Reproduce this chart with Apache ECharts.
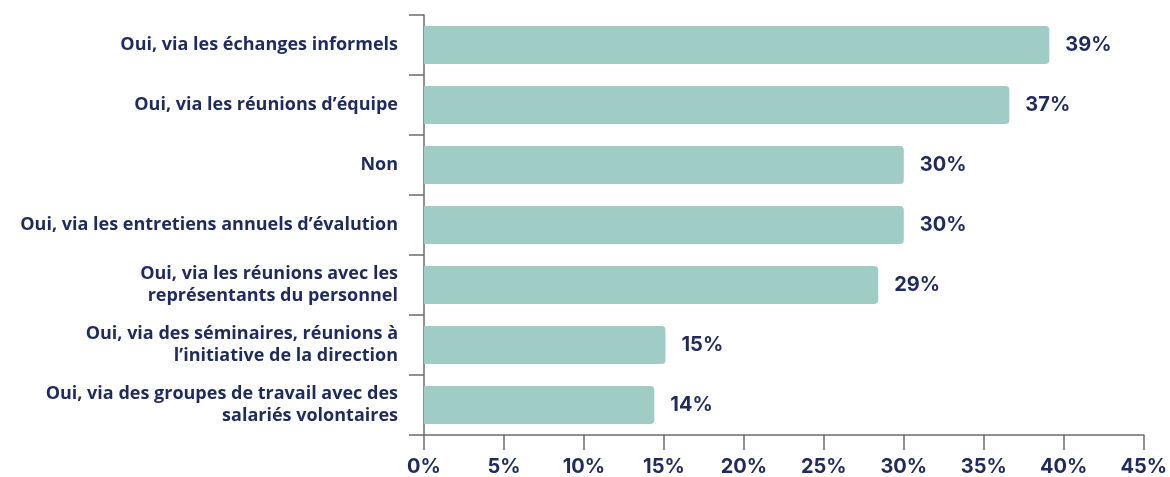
<!doctype html>
<html>
	<head>
		<meta charset="utf-8">
		<title>chart</title>
		<style>
			html, body { margin: 0; padding: 0; background: #fff; }
			#main { width: 1170px; height: 477px; }
		</style>
	</head>
	<body>
		<div id="main"></div>
		<script src="https://cdn.jsdelivr.net/npm/echarts@6/dist/echarts.min.js"></script>
		<script>
			// categories, top to bottom
			var categories = [
				'Oui, via les échanges informels',
				'Oui, via les réunions d\u2019équipe',
				'Non',
				'Oui, via les entretiens annuels d\u2019évalution',
				'Oui, via les réunions avec les\nreprésentants du personnel',
				'Oui, via des séminaires, réunions à\nl\u2019initiative de la direction',
				'Oui, via des groupes de travail avec des\nsalariés volontaires'
			];
			// bar lengths (%)
			var shares = [39.1, 36.6, 30.0, 30.0, 28.4, 15.1, 14.4];
			// printed labels
			var shareLabels = ['39%', '37%', '30%', '30%', '29%', '15%', '14%'];
			var xTicks = [0, 5, 10, 15, 20, 25, 30, 35, 40, 45];

			var navy = '#1f2b5e';
			var axisGrey = '#6b6b6b';

			var myChart = echarts.init(document.getElementById('main'));
			var option = {
				animation: false,
				grid: {
					left: 424,
					right: 24,
					top: 15,
					bottom: 40,
					containLabel: false
				},
				xAxis: {
					type: 'value',
					min: xTicks[0],
					max: xTicks[xTicks.length - 1],
					interval: xTicks[1] - xTicks[0],
					splitLine: { show: false },
					axisLine: { show: true, lineStyle: { color: axisGrey, width: 1.5 } },
					axisTick: { show: true, length: 15, lineStyle: { color: axisGrey, width: 1.5 } },
					axisLabel: {
						formatter: '{value}%',
						margin: 22,
						color: navy,
						fontSize: 20,
						fontWeight: 'bold',
						fontFamily: 'Inter'
					}
				},
				yAxis: {
					type: 'category',
					inverse: true,
					data: categories,
					axisLine: { show: true, lineStyle: { color: axisGrey, width: 1.5 } },
					axisTick: { show: true, length: 15, alignWithLabel: false, lineStyle: { color: axisGrey, width: 1.5 } },
					axisLabel: {
						margin: 26,
						color: navy,
						fontSize: 18,
						fontWeight: 'bold',
						lineHeight: 22,
						fontFamily: 'Open Sans',
						align: 'right'
					}
				},
				series: [{
					type: 'bar',
					data: shares,
					barWidth: 38,
					itemStyle: {
						color: '#9fcdc6',
						borderRadius: [0, 4, 4, 0]
					},
					label: {
						show: true,
						position: 'right',
						distance: 16,
						color: navy,
						fontSize: 20,
						fontWeight: 'bold',
						fontFamily: 'Inter',
						formatter: function (p) {
							return shareLabels[p.dataIndex];
						}
					}
				}]
			};
			myChart.setOption(option);
		</script>
	</body>
</html>
